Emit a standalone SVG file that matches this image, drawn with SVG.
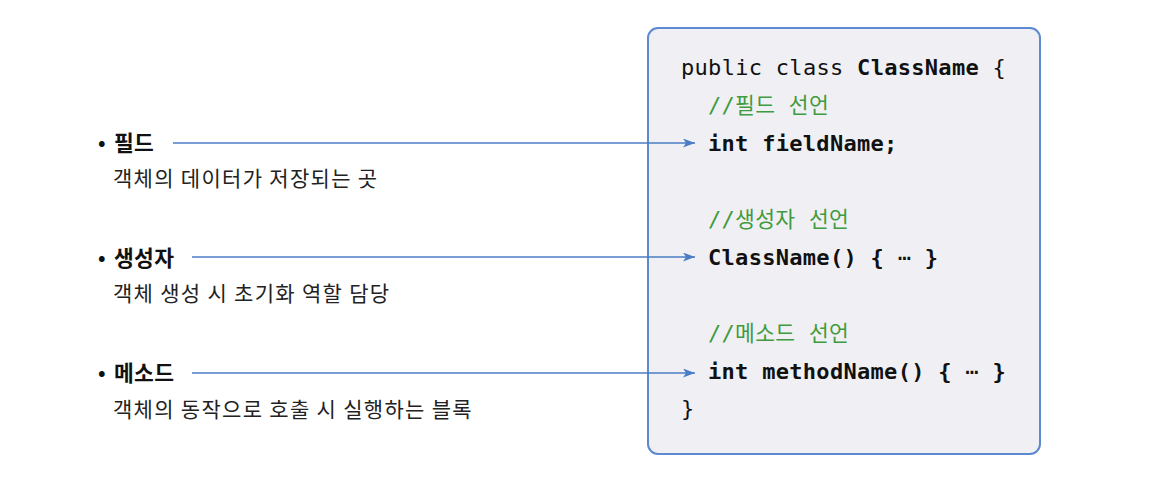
<svg xmlns="http://www.w3.org/2000/svg" width="1161" height="490" viewBox="0 0 1161 490">
<style>
.lbl{font-family:"Noto Sans CJK KR","Noto Sans",sans-serif;font-size:21.5px;font-weight:bold;fill:#111;letter-spacing:0.3px}
.bul{font-family:"Noto Sans CJK KR","Noto Sans",sans-serif;font-size:20px;font-weight:bold;fill:#111}
.desc{font-family:"Noto Sans CJK KR","Noto Sans",sans-serif;font-size:21px;fill:#222;letter-spacing:1.3px}
.code{font-family:"DejaVu Sans Mono","Noto Sans CJK KR",monospace;font-size:22px;fill:#111;letter-spacing:0.3px}
.b{font-weight:bold}
.cm{fill:#3f9b3f}
.cm tspan.k{font-size:21.5px}
.dots{font-weight:normal}
.conn{stroke:#4a7dc6;stroke-width:1.6;fill:none}
</style>
<defs>
<marker id="ah" markerWidth="13" markerHeight="10" refX="12" refY="4.5" orient="auto" markerUnits="userSpaceOnUse">
<path d="M0,0 L12,4.5 L0,9 L3,4.5 z" fill="#4a7dc6"/>
</marker>
</defs>
<g id="class-box">
<rect x="648" y="28" width="392" height="426" rx="10" ry="10" fill="#f0f0f4" stroke="#5b8ad0" stroke-width="2"/>
<text class="code" x="681" y="75">public class <tspan class="b">ClassName</tspan> {</text>
<text class="code cm" x="708" y="113">//<tspan class="k">필드</tspan> <tspan class="k">선언</tspan></text>
<text class="code b" x="708" y="151">int fieldName;</text>
<text class="code cm" x="708" y="227">//<tspan class="k">생성자</tspan> <tspan class="k">선언</tspan></text>
<text class="code b" x="708" y="265">ClassName() { <tspan class="dots">⋯</tspan> }</text>
<text class="code cm" x="708" y="341">//<tspan class="k">메소드</tspan> <tspan class="k">선언</tspan></text>
<text class="code b" x="708" y="379">int methodName() { <tspan class="dots">⋯</tspan> }</text>
<text class="code" x="681" y="416">}</text>
</g>
<g id="field">
<text class="bul" x="98" y="150">•</text>
<text class="lbl" x="114" y="151">필드</text>
<text class="desc" x="113" y="186">객체의 데이터가 저장되는 곳</text>
</g>
<g id="constructor">
<text class="bul" x="98" y="265">•</text>
<text class="lbl" x="114" y="266">생성자</text>
<text class="desc" x="113" y="301">객체 생성 시 초기화 역할 담당</text>
</g>
<g id="method">
<text class="bul" x="98" y="380">•</text>
<text class="lbl" x="114" y="381">메소드</text>
<text class="desc" x="113" y="417">객체의 동작으로 호출 시 실행하는 블록</text>
</g>
<g id="connectors">
<line class="conn" x1="173" y1="143" x2="695" y2="143" marker-end="url(#ah)"/>
<line class="conn" x1="192" y1="257" x2="695" y2="257" marker-end="url(#ah)"/>
<line class="conn" x1="192" y1="373" x2="695" y2="373" marker-end="url(#ah)"/>
</g>
</svg>
